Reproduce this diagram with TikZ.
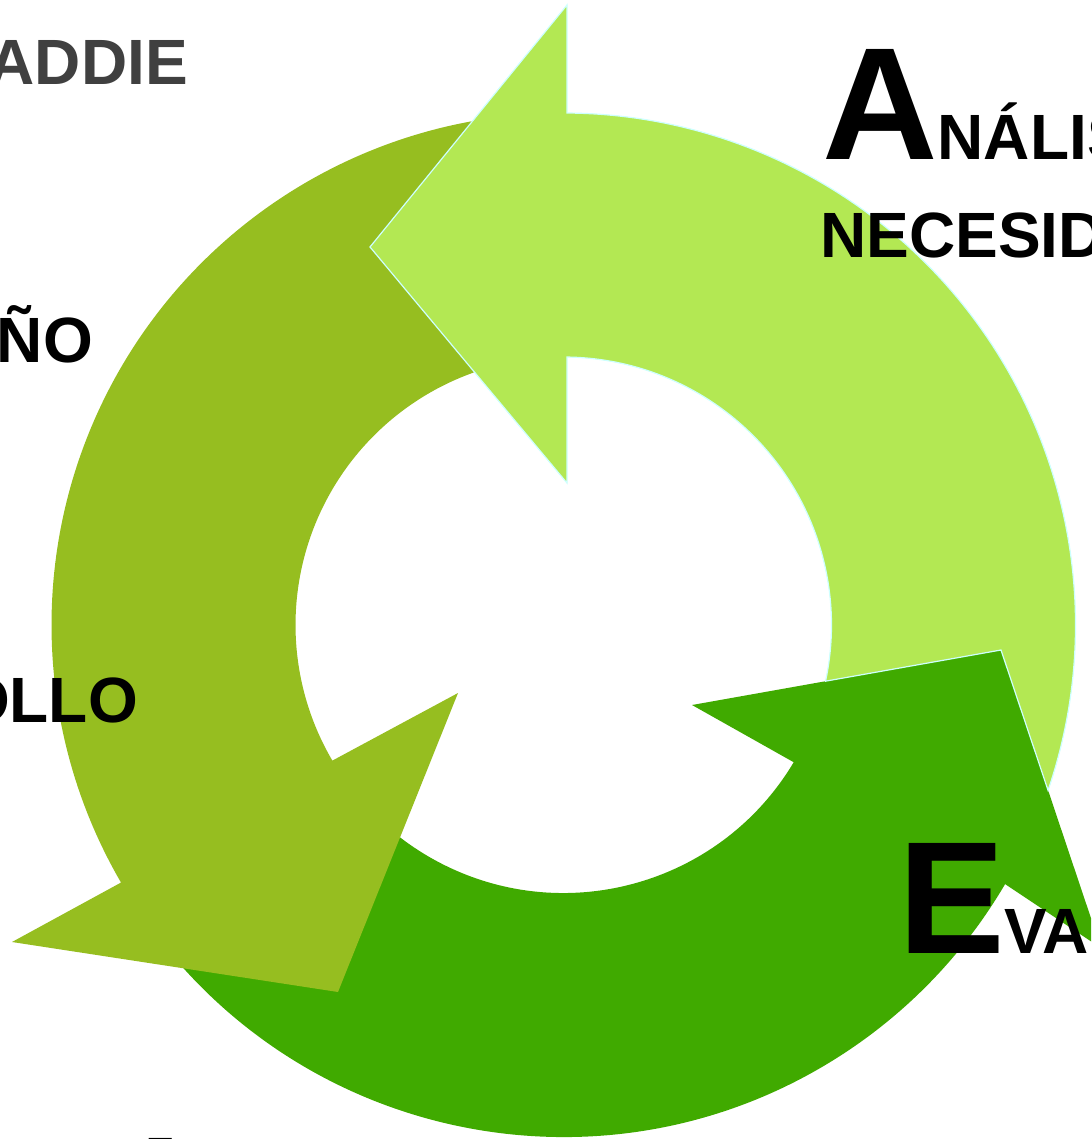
\documentclass[tikz,border=0pt]{standalone}
\usepackage{fontspec}
\setmainfont{Liberation Sans}
\definecolor{lightg}{RGB}{179,232,83}
\definecolor{oliveg}{RGB}{150,190,32}
\definecolor{darkg}{RGB}{64,170,0}
\definecolor{edgec}{RGB}{205,255,255}
\definecolor{titlegray}{RGB}{64,64,64}
\begin{document}
\begin{tikzpicture}[x=1pt,y=1pt,
  lbl/.style={inner sep=0pt, font=\bfseries\fontsize{64}{64}\selectfont},
  biglbl/.style={inner sep=0pt, font=\bfseries\fontsize{160}{160}\selectfont},
  arrowfill/.style={line join=miter}]
\useasboundingbox (0,0) rectangle (1091,-1139);
\clip (0,0) rectangle (1091,-1139);
\coordinate (c) at (563.5,-625);
% dark green (bottom) arrow
\fill[darkg, arrowfill] ([shift={(c)}]214:512) arc[start angle=214, end angle=329.6, radius=512]
  -- (1101,-948) -- (1001,-650) -- (692,-705) -- ([shift={(c)}]-30.8:268)
  arc[start angle=-30.8, end angle=-146, radius=268] -- cycle;
% olive (left) arrow
\fill[oliveg, arrowfill] ([shift={(c)}]96:512) arc[start angle=96, end angle=210.2, radius=512]
  -- (12,-942) -- (338,-992) -- (458,-693) -- ([shift={(c)}]210.4:268)
  arc[start angle=210.4, end angle=96, radius=268] -- cycle;
% light green (top/right) arrow with notched tail
\filldraw[fill=lightg, draw=edgec, line width=1.2pt, arrowfill]
  ([shift={(c)}]-18.84:512) arc[start angle=-18.84, end angle=89.6, radius=512]
  -- (567,-5) -- (370,-247) -- (567,-483) -- ([shift={(c)}]89.25:268)
  arc[start angle=89.25, end angle=-12.1, radius=268] -- (1001,-650) -- cycle;
% labels
\node[lbl, text=titlegray, anchor=base east] (addie) at (188,-85) {ADDIE};
\node[lbl, anchor=base east] (diseno) at (93,-362) {ÑO};
\node[lbl, anchor=base east] (desarrollo) at (138,-722) {OLLO};
\node[inner sep=0pt, anchor=base west, font=\bfseries] (analisis) at (822,-160)
  {\fontsize{160}{160}\selectfont A\fontsize{64}{64}\selectfont NÁLIS};
\node[lbl, anchor=base west] (necesidades) at (820,-258) {NECESID};
\node[inner sep=0pt, anchor=base west, font=\bfseries] (evaluacion) at (898,-953)
  {\fontsize{160}{160}\selectfont E\fontsize{64}{64}\selectfont VA};
\node[biglbl, anchor=base west] (implementacion) at (138,-1248) {I};
\end{tikzpicture}
\end{document}
